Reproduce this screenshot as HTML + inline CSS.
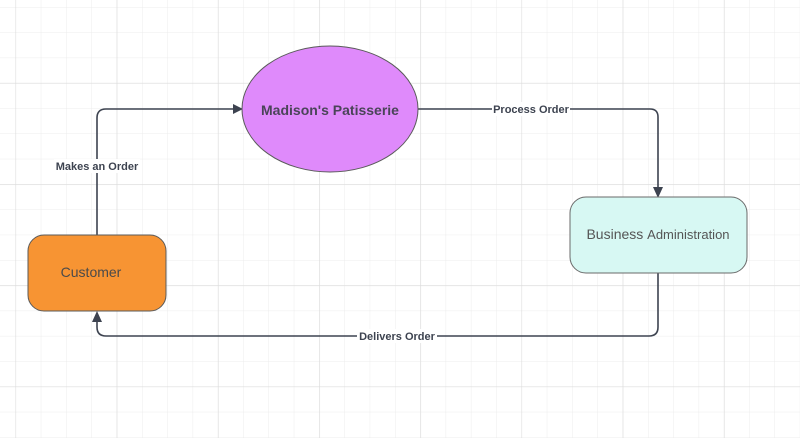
<!DOCTYPE html>
<html><head><style>
html,body{margin:0;padding:0;background:#fff;}
svg{display:block;}
text{font-family:"Liberation Sans",sans-serif;}
</style></head><body>
<svg width="800" height="438" viewBox="0 0 800 438">
<defs>
<pattern id="g" x="15.5" y="7" width="25.3" height="25.3" patternUnits="userSpaceOnUse">
<path d="M0 0V25.3M0 0H25.3" stroke="#ececec" stroke-width="1" fill="none"/>
</pattern>
<pattern id="G" x="15.5" y="-18.3" width="101.2" height="101.2" patternUnits="userSpaceOnUse">
<path d="M0 0V101.2M0 0H101.2" stroke="#dcdcdc" stroke-width="1.2" fill="none"/>
</pattern>
</defs>
<rect width="800" height="438" fill="url(#g)"/>
<rect width="800" height="438" fill="url(#G)"/>
<g fill="none" stroke="#3d4350" stroke-width="1.6">
<path d="M97 235V118Q97 109 106 109H234"/>
<path d="M418 109H650Q658 109 658 117V188"/>
<path d="M658 273V327Q658 336 649 336H106Q97 336 97 327V320"/>
</g>
<g fill="#3d4350">
<path d="M243 109L233 104V114Z"/>
<path d="M658 198L653 187H663Z"/>
<path d="M97 311L92 322H102Z"/>
</g>
<rect x="28" y="235" width="138" height="76" rx="16" fill="#f79433" stroke="#5a5a5a" stroke-width="1"/>
<text x="91" y="277" font-size="14" fill="#4a4a4a" text-anchor="middle">Customer</text>
<ellipse cx="330" cy="109" rx="88" ry="63" fill="#df8afb" stroke="#5a5a5a" stroke-width="1"/>
<text x="330" y="115" font-size="14" font-weight="bold" fill="#4a4458" text-anchor="middle">Madison's Patisserie</text>
<rect x="570" y="197" width="177" height="76" rx="16" fill="#d7f8f3" stroke="#6a6a6a" stroke-width="1"/>
<text x="658" y="239" font-size="14" fill="#555" text-anchor="middle">Business <tspan font-size="13">Administration</tspan></text>
<rect x="54" y="159" width="86" height="14" fill="#fff"/>
<text x="97" y="170" font-size="11" font-weight="bold" fill="#3d4350" text-anchor="middle">Makes an Order</text>
<rect x="492" y="102" width="78" height="14" fill="#fff"/>
<text x="531" y="113" font-size="11" font-weight="bold" fill="#3d4350" text-anchor="middle">Process Order</text>
<rect x="357" y="329" width="80" height="14" fill="#fff"/>
<text x="397" y="340" font-size="11" font-weight="bold" fill="#3d4350" text-anchor="middle">Delivers Order</text>
</svg>
</body></html>
